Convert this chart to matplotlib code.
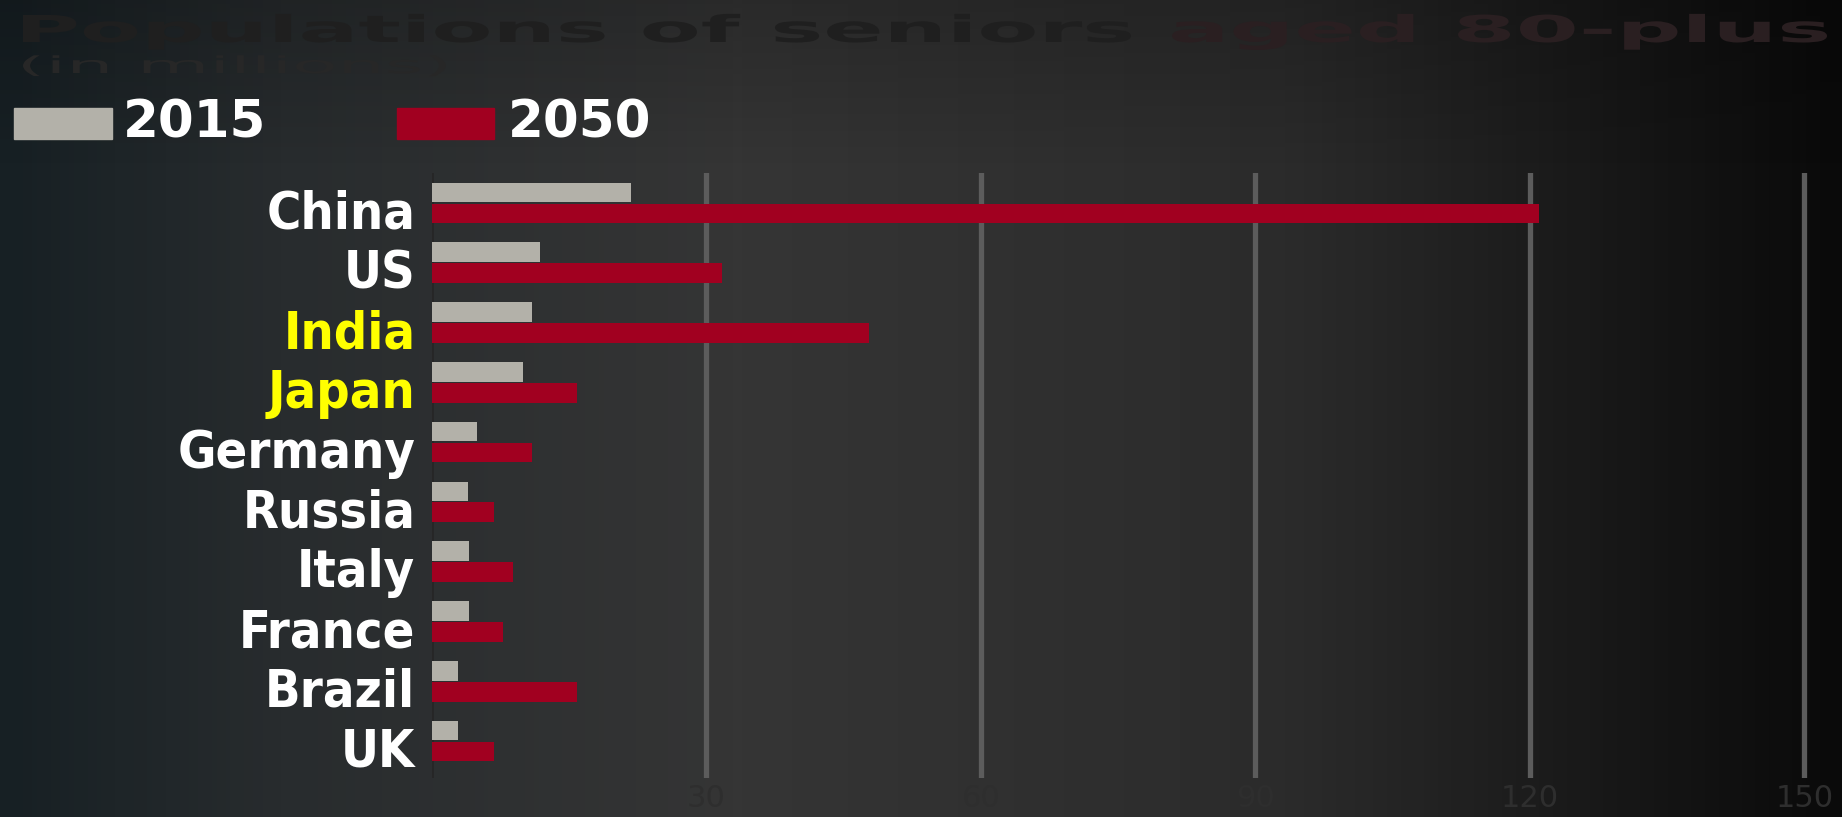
import numpy as np
import matplotlib.pyplot as plt
from matplotlib.patches import Rectangle, PathPatch
from matplotlib.colors import LinearSegmentedColormap
from matplotlib.textpath import TextPath
from matplotlib.font_manager import FontProperties
from matplotlib.transforms import Affine2D

# Seniors aged 80-plus, millions
countries = ["China", "US", "India", "Japan", "Germany", "Russia", "Italy", "France", "Brazil", "UK"]
pop_2015 = [21.8, 11.8, 10.9, 9.9, 4.9, 3.9, 4.0, 4.0, 2.8, 2.8]
pop_2050 = [121.0, 31.7, 47.8, 15.8, 10.9, 6.8, 8.9, 7.8, 15.8, 6.8]
highlight = ["India", "Japan"]
ticks = [0, 30, 60, 90, 120, 150]

W, H = 1842, 817
grey = "#b3b1a9"
red = "#a10020"
label_font = dict(family="DejaVu Sans", fontweight="bold", fontstretch="condensed")
legend_font = dict(family="DejaVu Sans", fontweight="bold")

fig = plt.figure(figsize=(W / 100, H / 100), dpi=100)

# dark gradient backdrop
bg = fig.add_axes([0, 0, 1, 1], zorder=-10)
bg_cmap = LinearSegmentedColormap.from_list(
    "bg", [(0, "#172024"), (0.15, "#282c2e"), (0.4, "#353535"), (0.7, "#2b2b2b"), (1, "#0a0a0a")])
xx = np.linspace(0, 1, 400)
yy = np.linspace(0, 1, 200)[:, None]
grad = xx[None, :] * np.ones_like(yy)
bg.imshow(grad, cmap=bg_cmap, aspect="auto", extent=[0, 1, 0, 1], origin="lower")
shade = np.clip((yy - 0.8) / 0.2, 0, 1) * 0.2
bg.imshow(np.zeros_like(grad), cmap="gray", alpha=np.broadcast_to(shade, grad.shape),
          aspect="auto", extent=[0, 1, 0, 1], origin="lower")
bg.set_xlim(0, 1)
bg.set_ylim(0, 1)
bg.axis("off")


# the faint title uses a very wide face, so stretch a text path to fit
def wide_text(s, x0, x1, baseline, cap, color, weight="normal"):
    fp = FontProperties(family="DejaVu Sans", weight=weight)
    path = TextPath((0, 0), s, size=1, prop=fp)
    cap_h = TextPath((0, 0), "H", size=1, prop=fp).get_extents().height
    ext = path.get_extents()
    sx = (x1 - x0) / ext.width
    sy = cap / cap_h
    tr = Affine2D().translate(-ext.x0, 0).scale(sx / W, sy / H).translate(x0 / W, 1 - baseline / H)
    fig.patches.append(PathPatch(tr.transform_path(path), transform=fig.transFigure,
                                 facecolor=color, edgecolor="none", zorder=-5))


wide_text("Populations of seniors", 23, 1131, 42, 27, "#1f1f1f", weight="bold")
wide_text("aged 80-plus", 1172, 1827, 42, 27, "#2a1f21", weight="bold")
wide_text("(in millions)", 23, 446, 73, 17, "#272727")

ax = fig.add_axes([0.2345, 0.0477, 0.7655, 0.7405])
ax.patch.set_alpha(0)

y = np.arange(len(countries))
h = 0.33
ax.barh(y - 0.175, pop_2015, height=h, color=grey, zorder=3)
ax.barh(y + 0.175, pop_2050, height=h, color=red, zorder=3)

ax.set_xlim(0, 154.1)
ax.set_ylim(len(countries) - 0.38, -0.5)
for t in ticks[1:]:
    ax.axvline(t, color="#5c5c5c", lw=3.8, zorder=1)
ax.axvline(0, color="#262626", lw=2, zorder=1)

for s in ax.spines.values():
    s.set_visible(False)
ax.set_yticks([])
ax.set_xticks(ticks[1:])
ax.set_xticklabels([str(t) for t in ticks[1:]], color="#2e2e2e", fontsize=22, family="DejaVu Sans")
ax.tick_params(axis="x", length=0, pad=4)

for i, name in enumerate(countries):
    c = "#ffff00" if name in highlight else "white"
    ax.annotate(name, xy=(0, i), xytext=(-12, -18.5), textcoords="offset points",
                ha="right", va="baseline", color=c, fontsize=37.5, **label_font)

# legend
fig.patches.append(Rectangle((14 / W, 1 - 139 / H), 98 / W, 31 / H,
                             transform=fig.transFigure, color=grey))
fig.patches.append(Rectangle((397 / W, 1 - 139 / H), 97 / W, 31 / H,
                             transform=fig.transFigure, color=red))
fig.text(123 / W, 1 - 138 / H, "2015", color="white", fontsize=37, va="baseline", **legend_font)
fig.text(508 / W, 1 - 138 / H, "2050", color="white", fontsize=37, va="baseline", **legend_font)

fig.savefig("out.png", dpi=100)
